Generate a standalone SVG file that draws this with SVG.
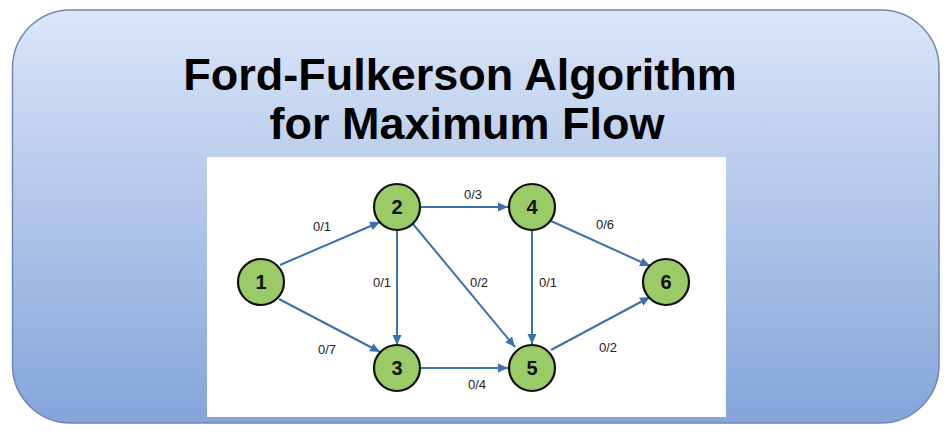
<svg xmlns="http://www.w3.org/2000/svg" width="950" height="432" viewBox="0 0 950 432">
<defs>
<linearGradient id="bg" x1="0" y1="0" x2="0" y2="1">
<stop offset="0" stop-color="#dbe6f8"/>
<stop offset="1" stop-color="#84a4da"/>
</linearGradient>
<marker id="arr" viewBox="0 0 10 10" refX="10" refY="5" markerWidth="10" markerHeight="10" markerUnits="userSpaceOnUse" orient="auto">
<path d="M0,0.5 L10,5 L0,9.5 z" fill="#3a6fb2"/>
</marker>
<style>
.title{font-family:"Liberation Sans",Arial,sans-serif;font-weight:bold;font-size:45px;fill:#000;text-anchor:middle}
.node circle{fill:#9acb67;stroke:#111;stroke-width:2.2}
.node text{font-family:"Liberation Sans",Arial,sans-serif;font-weight:bold;font-size:20px;fill:#111;text-anchor:middle}
.edge{stroke:#3a6fb2;stroke-width:2;fill:none;marker-end:url(#arr)}
.lbl{font-family:"Liberation Sans",Arial,sans-serif;font-size:13px;fill:#222;text-anchor:middle}
</style>
</defs>
<rect x="12.5" y="10" width="926.5" height="413" rx="58" ry="58" fill="url(#bg)" stroke="#6f86b4" stroke-width="1.5"/>
<text class="title" x="460" y="90">Ford-Fulkerson Algorithm</text>
<text class="title" x="467" y="139">for Maximum Flow</text>
<rect x="207" y="157" width="519" height="260" fill="#ffffff"/>
<g id="connectors">
<line class="edge" x1="280" y1="265" x2="380" y2="222"/>
<line class="edge" x1="279" y1="299" x2="380" y2="352"/>
<line class="edge" x1="397" y1="230" x2="397" y2="345"/>
<line class="edge" x1="420" y1="207" x2="508" y2="207"/>
<line class="edge" x1="413" y1="224" x2="515" y2="347"/>
<line class="edge" x1="421" y1="368" x2="508" y2="368"/>
<line class="edge" x1="532" y1="230" x2="532" y2="344"/>
<line class="edge" x1="551" y1="221" x2="650" y2="266"/>
<line class="edge" x1="551" y1="350" x2="650" y2="297"/>
<text class="lbl" x="322" y="231">0/1</text>
<text class="lbl" x="327" y="354">0/7</text>
<text class="lbl" x="382" y="287">0/1</text>
<text class="lbl" x="473" y="199">0/3</text>
<text class="lbl" x="479" y="287">0/2</text>
<text class="lbl" x="548" y="287">0/1</text>
<text class="lbl" x="605" y="229">0/6</text>
<text class="lbl" x="608" y="352">0/2</text>
<text class="lbl" x="477" y="389">0/4</text>
</g>
<g id="node1" class="node"><circle cx="261" cy="282" r="23"/><text x="261" y="289">1</text></g>
<g id="node2" class="node"><circle cx="397" cy="207" r="23"/><text x="397" y="214">2</text></g>
<g id="node3" class="node"><circle cx="397" cy="368" r="23"/><text x="397" y="375">3</text></g>
<g id="node4" class="node"><circle cx="532" cy="207" r="23"/><text x="532" y="214">4</text></g>
<g id="node5" class="node"><circle cx="532" cy="368" r="23"/><text x="532" y="375">5</text></g>
<g id="node6" class="node"><circle cx="666" cy="282" r="23"/><text x="666" y="289">6</text></g>
</svg>
